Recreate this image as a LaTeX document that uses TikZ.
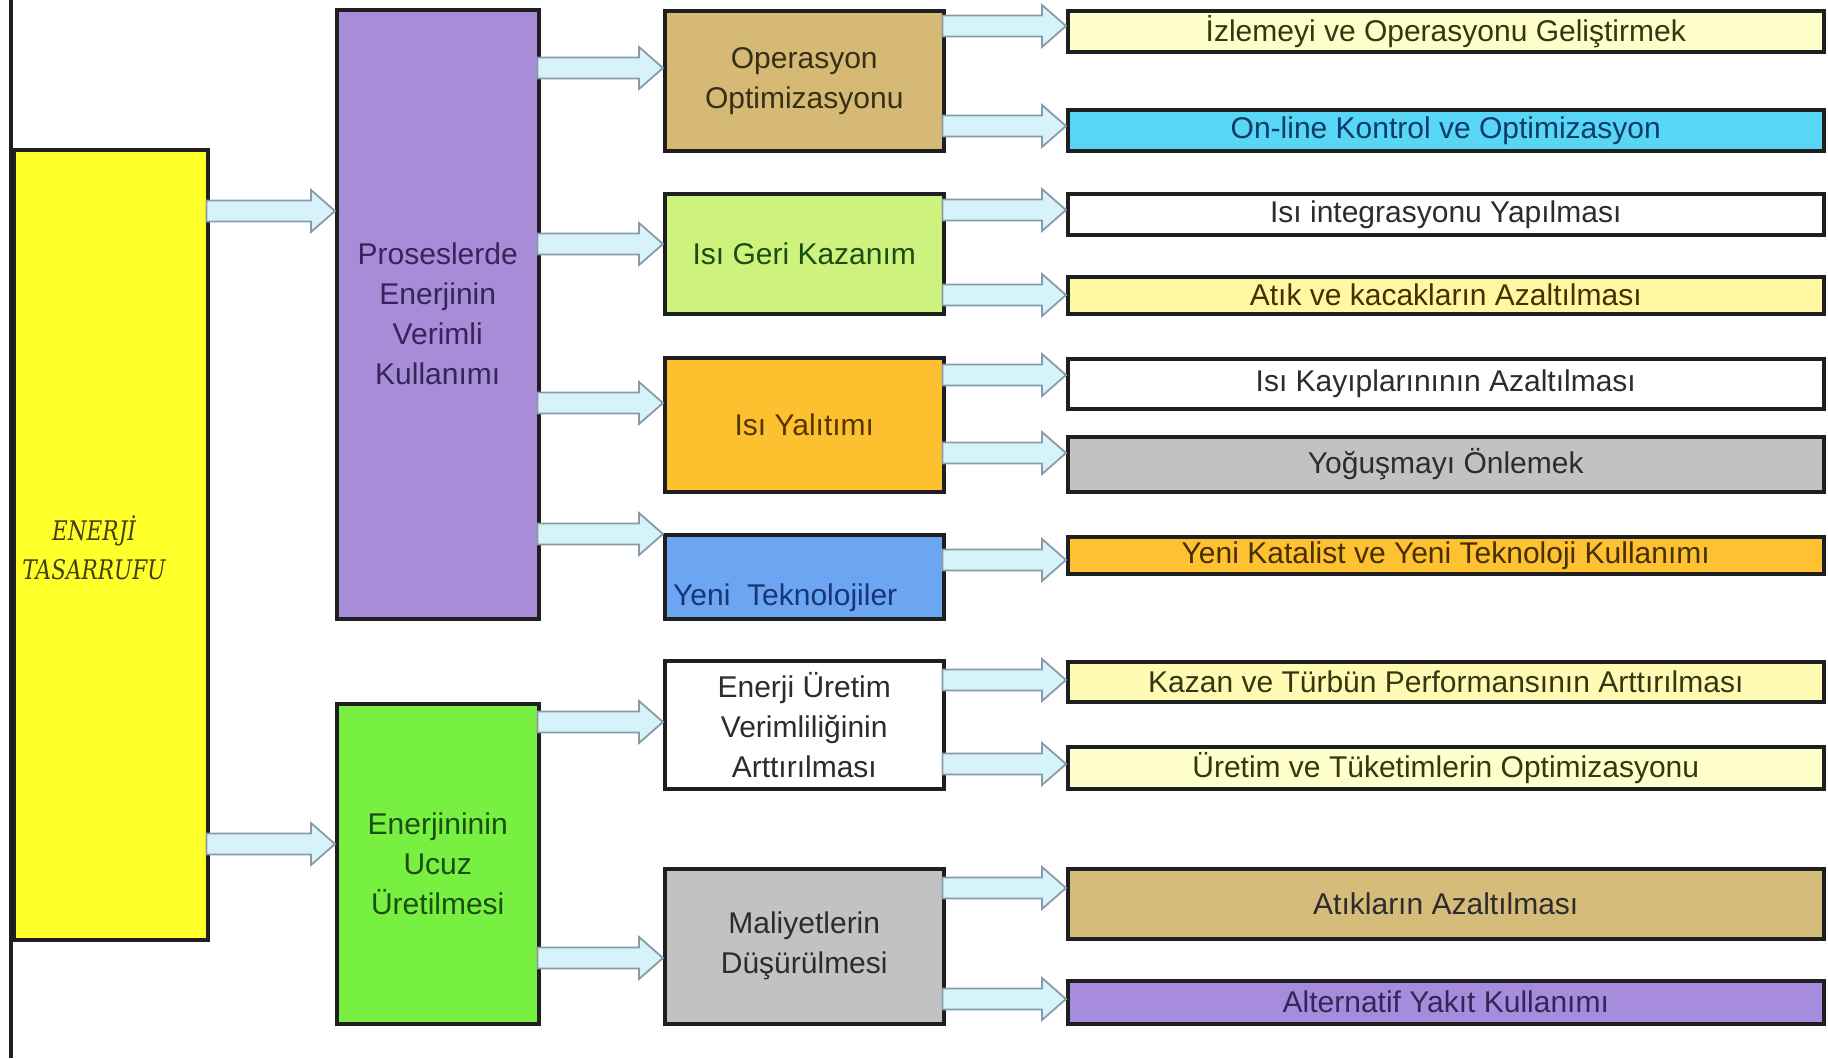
\documentclass[tikz,border=0pt]{standalone}
\usepackage{fontspec}
\usepackage{graphicx}
\setmainfont{Liberation Sans}
\newfontfamily\serifit{DejaVu Serif}
\usetikzlibrary{calc}
\definecolor{cYel}{HTML}{FFFF2A}
\definecolor{cPur}{HTML}{A88CD8}
\definecolor{cGrn}{HTML}{78F042}
\definecolor{cTan}{HTML}{D5B974}
\definecolor{cLgr}{HTML}{CDF27E}
\definecolor{cOra}{HTML}{FDC02F}
\definecolor{cBlu}{HTML}{6CA6F2}
\definecolor{cGry}{HTML}{C2C2C2}
\definecolor{cLy}{HTML}{FFFFCC}
\definecolor{cLy2}{HTML}{FFF7A2}
\definecolor{cLy3}{HTML}{FFFBB4}
\definecolor{cCya}{HTML}{58D6F6}
\definecolor{cOr2}{HTML}{FEC132}
\definecolor{cTan2}{HTML}{D6BC7A}
\definecolor{cPur2}{HTML}{A78BDC}
\definecolor{arrfill}{HTML}{D6F3FA}
\definecolor{arrline}{HTML}{8A9AA8}
\definecolor{tPur}{HTML}{35265A}
\definecolor{tGrn}{HTML}{1B4E10}
\definecolor{tOp}{HTML}{363016}
\definecolor{tOr}{HTML}{553600}
\definecolor{tBlu}{HTML}{183676}
\definecolor{tDk}{HTML}{2C2C2C}
\definecolor{tOl}{HTML}{363610}
\definecolor{tTeal}{HTML}{0E3C66}
\definecolor{tBr}{HTML}{463000}
\definecolor{tEn}{HTML}{44400E}
\begin{document}
\begin{tikzpicture}[x=1pt,y=-1pt,
  box/.style={draw=black!88, line width=3.5pt, anchor=north west, inner sep=0pt,
    align=center, font=\fontsize{30}{40}\selectfont},
  barrow/.style={draw=arrline, fill=arrfill, line width=1.8pt, line join=miter,
    to path={($(\tikztostart)+(0,-10.5)$) -- ($(\tikztotarget)+(-24,-10.5)$)
      -- ($(\tikztotarget)+(-24,-21)$) -- (\tikztotarget)
      -- ($(\tikztotarget)+(-24,21)$) -- ($(\tikztotarget)+(-24,10.5)$)
      -- ($(\tikztostart)+(0,10.5)$) -- cycle}},
  lbl/.style={inner sep=0pt, font=\fontsize{30}{40}\selectfont}]
\useasboundingbox (0,0) rectangle (1828,1058);
\fill[white] (0,0) rectangle (1828,1058);
\draw[line width=3.5pt, black!88] (11,0) -- (11,1058);
% column 1
\node[box, fill=cYel, minimum width=194pt, minimum height=790pt] (E) at (12,148) {};
\node[lbl, align=center, text=tEn, font=\serifit\itshape\fontsize{27}{39}\selectfont] (Et) at (94,548)
  {\scalebox{0.8}[1]{ENERJİ}\\\scalebox{0.8}[1]{TASARRUFU}};
% column 2
\node[box, fill=cPur, text=tPur, minimum width=202pt, minimum height=609pt] (P) at (335,8)
  {Proseslerde\\Enerjinin\\Verimli\\Kullanımı};
\node[box, fill=cGrn, text=tGrn, minimum width=202pt, minimum height=320pt] (G) at (335,702)
  {Enerjininin\\Ucuz\\Üretilmesi};
% column 3
\node[box, fill=cTan, text=tOp, minimum width=279pt, minimum height=140pt] (O) at (663,9)
  {Operasyon\\Optimizasyonu};
\node[box, fill=cLgr, text=tGrn, minimum width=279pt, minimum height=120pt] (H) at (663,192)
  {Isı Geri Kazanım};
\node[box, fill=cOra, text=tOr, minimum width=279pt, minimum height=134pt] (I) at (663,356)
  {Isı Yalıtımı};
\node[box, fill=cBlu, minimum width=279pt, minimum height=84pt] (Y) at (663,533) {};
\node[lbl, anchor=west, text=tBlu] (Yt) at (673,598) {Yeni\ \ Teknolojiler};
\node[box, fill=white, text=tDk, minimum width=279pt, minimum height=128pt] (U) at (663,659)
  {Enerji Üretim\\Verimliliğinin\\Arttırılması};
\node[box, fill=cGry, text=tDk, minimum width=279pt, minimum height=155pt] (M) at (663,867)
  {Maliyetlerin\\Düşürülmesi};
% column 4
\node[box, fill=cLy, text=tOl, minimum width=756pt, minimum height=41pt] (R1) at (1066,9)
  {İzlemeyi ve Operasyonu Geliştirmek};
\node[box, fill=cCya, text=tTeal, minimum width=756pt, minimum height=41pt] (R2) at (1066,108)
  {On-line Kontrol ve Optimizasyon};
\node[box, fill=white, text=tDk, minimum width=756pt, minimum height=41pt] (R3) at (1066,192)
  {Isı integrasyonu Yapılması};
\node[box, fill=cLy2, text=tBr, minimum width=756pt, minimum height=37pt] (R4) at (1066,275)
  {Atık ve kacakların Azaltılması};
\node[box, fill=white, text=tDk, minimum width=756pt, minimum height=50pt] (R5) at (1066,357)
  {Isı Kayıplarınının Azaltılması};
\node[box, fill=cGry, text=tDk, minimum width=756pt, minimum height=55pt] (R6) at (1066,435)
  {Yoğuşmayı Önlemek};
\node[box, fill=cOr2, text=tBr, minimum width=756pt, minimum height=37pt] (R7) at (1066,535)
  {Yeni Katalist ve Yeni Teknoloji Kullanımı};
\node[box, fill=cLy3, text=tOl, minimum width=756pt, minimum height=40pt] (R8) at (1066,660)
  {Kazan ve Türbün Performansının Arttırılması};
\node[box, fill=cLy, text=tOl, minimum width=756pt, minimum height=42pt] (R9) at (1066,745)
  {Üretim ve Tüketimlerin Optimizasyonu};
\node[box, fill=cTan2, text=tDk, minimum width=756pt, minimum height=70pt] (R10) at (1066,867)
  {Atıkların Azaltılması};
\node[box, fill=cPur2, text=tPur, minimum width=756pt, minimum height=43pt] (R11) at (1066,979)
  {Alternatif Yakıt Kullanımı};
% arrows
\foreach \yy/\s/\t [count=\i] in {211/E/P, 844/E/G,
    68/P/O, 244/P/H, 403/P/I, 534/P/Y, 722/G/U, 958/G/M,
    26/O/R1, 126/O/R2, 210/H/R3, 295/H/R4, 375/I/R5, 453/I/R6,
    560/Y/R7, 680/U/R8, 764/U/R9, 888/M/R10, 999/M/R11} {
  \coordinate (s\i) at ($(\s.east |- 0,\yy)+(-3,0)$);
  \coordinate (t\i) at (\t.west |- 0,\yy);
  \draw[barrow] (s\i) to (t\i);
}
\end{tikzpicture}
\end{document}
